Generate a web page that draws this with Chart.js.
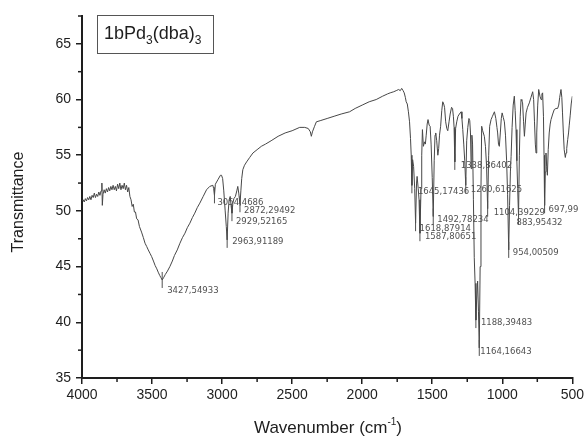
<!DOCTYPE html>
<html>
<head>
<meta charset="utf-8">
<title>1bPd3(dba)3 IR spectrum</title>
<script src="https://cdn.jsdelivr.net/npm/chart.js@4.4.1/dist/chart.umd.min.js"></script>
<style>
  html, body { margin: 0; padding: 0; background: #ffffff; }
  canvas { display: block; }
</style>
</head>
<body>
<canvas id="spectrum" width="587" height="439" style="width:587px;height:439px"></canvas>
<script>
// IR spectrum of 1bPd3(dba)3: wavenumber (cm-1) and transmittance readings
const wavenumbers = [
  4000, 3992, 3984, 3976, 3968, 3960, 3952, 3944, 3936, 3928, 3920, 3912, 3904, 3896, 3888, 3880,
  3872, 3864, 3858, 3855, 3850, 3842, 3834, 3826, 3818, 3810, 3802, 3794, 3786, 3778, 3770, 3762,
  3754, 3746, 3738, 3730, 3722, 3714, 3706, 3698, 3690, 3682, 3674, 3666, 3658, 3650, 3642, 3634,
  3626, 3618, 3610, 3600, 3590, 3575, 3562, 3550, 3538, 3527, 3515, 3503, 3490, 3478, 3466, 3456,
  3445, 3436, 3427.54933, 3418, 3405, 3390, 3373, 3355, 3340, 3320, 3301, 3283, 3265, 3248, 3230,
  3212, 3195, 3177, 3159, 3135, 3111, 3088, 3066, 3060, 3054.4686, 3048, 3030, 3012, 3004, 2996,
  2988, 2978, 2970, 2963.91189, 2957, 2950, 2942, 2936, 2929.52165, 2923, 2916, 2905, 2895, 2888,
  2881, 2872.29492, 2866, 2860, 2852, 2840, 2825, 2803, 2780, 2750, 2720, 2690, 2650, 2600, 2550,
  2500, 2446, 2410, 2385, 2370, 2363, 2355, 2340, 2327, 2300, 2250, 2200, 2150, 2090, 2050, 2000,
  1950, 1900, 1854, 1820, 1800, 1775, 1757, 1740, 1728, 1718, 1708, 1700, 1692, 1686, 1678, 1670,
  1662, 1655, 1650, 1645.17436, 1640, 1633, 1625, 1618.87914, 1612, 1608, 1600, 1594, 1587.80651,
  1580, 1575, 1570, 1563, 1555, 1549, 1543, 1536, 1530, 1522, 1515, 1508, 1500, 1492.78234, 1486,
  1480, 1475, 1468, 1460, 1454, 1448, 1440, 1432, 1425, 1418, 1412, 1404, 1396, 1389, 1380, 1372,
  1362, 1355, 1349, 1344, 1338.86402, 1333, 1325, 1316, 1306, 1294, 1288, 1282, 1275, 1268,
  1260.61625, 1254, 1246, 1238, 1232, 1227, 1222, 1217, 1212, 1206, 1200, 1194, 1188.39483, 1183,
  1176, 1170, 1164.16643, 1158, 1152, 1147, 1140, 1128, 1120, 1112, 1104.39229, 1097, 1090, 1080,
  1070, 1056, 1046, 1038, 1033, 1027, 1021, 1014, 1007, 1001, 993, 985, 977, 969, 962, 954.00509,
  948, 942, 937, 930, 922, 914, 908, 902, 896, 890, 883.95432, 878, 872, 866, 860, 855, 848, 842,
  836, 830, 820, 807, 795, 783, 776, 770, 764, 759, 754, 747, 740, 731, 723, 717, 712, 706, 702,
  697.99, 693, 688, 683, 678, 672, 665, 658, 652, 640, 629, 617, 605, 597, 590, 581, 575, 570, 564,
  558, 550, 545, 540, 533, 527, 522, 515, 508, 500
];
const transmittance = [
  50.9, 51.0, 50.8, 51.1, 50.9, 51.2, 51.0, 51.3, 51.0, 51.4, 51.2, 51.6, 51.2, 51.5, 51.3, 51.7,
  51.4, 51.8, 52.5, 50.5, 51.5, 51.9, 51.6, 52.0, 51.7, 52.1, 51.8, 52.2, 51.9, 52.3, 51.9, 52.2,
  51.8, 52.4, 52.0, 52.5, 51.9, 52.3, 52.0, 52.5, 51.9, 52.3, 51.7, 52.1, 51.3, 51.0, 50.4, 50.6,
  49.9, 49.9, 49.3, 49.2, 48.6, 48.1, 47.6, 47.1, 46.8, 46.5, 46.2, 45.9, 45.5, 45.1, 44.8, 44.5,
  44.2, 44.0, 43.8, 44.0, 44.3, 44.6, 45.0, 45.5, 46.0, 46.5, 47.1, 47.6, 48.0, 48.5, 48.9,
  49.4, 49.8, 50.3, 50.7, 51.3, 51.9, 52.2, 52.3, 52.0, 51.4, 52.4, 52.8, 53.2, 53.2, 52.9,
  51.8, 50.0, 48.6, 47.4, 49.8, 51.0, 51.3, 50.5, 49.8, 50.7, 51.1, 51.3, 51.8, 52.2,
  51.6, 50.6, 51.8, 52.9, 53.7, 54.1, 54.4, 54.8, 55.2, 55.5, 55.8, 56.0, 56.3, 56.7, 57.0,
  57.2, 57.5, 57.5, 57.4, 57.1, 56.7, 57.1, 57.6, 58.0, 58.1, 58.3, 58.5, 58.7, 58.9, 59.2, 59.5,
  59.8, 60.0, 60.3, 60.5, 60.6, 60.7, 60.8, 60.9, 60.8, 61.0, 60.8, 60.6, 60.2, 59.8, 59.6, 58.9,
  58.0, 56.5, 55.0, 52.3, 54.6, 54.0, 52.0, 48.9, 52.5, 53.1, 52.0, 51.0, 48.0,
  52.0, 55.0, 57.3, 55.8, 56.2, 56.0, 56.8, 57.8, 58.2, 57.7, 57.6, 56.0, 53.0, 49.5, 54.5,
  56.8, 57.0, 56.3, 55.0, 55.6, 56.8, 57.6, 59.0, 59.8, 59.6, 59.3, 58.0, 57.4, 57.2, 58.0, 58.7,
  59.3, 59.2, 58.5, 57.5, 54.4, 57.4, 58.0, 58.5, 58.7, 58.9, 58.3, 57.3, 56.0, 54.5,
  52.3, 56.3, 57.5, 58.3, 58.1, 57.0, 53.8, 56.8, 56.0, 51.0, 45.8, 43.5, 40.2, 42.0,
  43.7, 41.0, 37.7, 45.0, 52.0, 57.6, 57.2, 56.7, 55.8, 54.0, 50.2, 55.0, 57.6, 58.2,
  58.5, 58.9, 58.3, 57.5, 57.0, 56.0, 55.8, 57.0, 58.3, 58.8, 58.4, 58.0, 56.8, 54.5, 51.5, 46.5,
  50.5, 53.5, 54.9, 57.5, 59.5, 60.3, 59.0, 57.3, 54.5, 52.0, 49.5, 55.0, 58.5, 60.0, 59.9, 59.7, 58.0, 56.7,
  57.8, 58.8, 59.3, 59.7, 60.2, 60.7, 60.0, 58.0, 56.0, 55.2, 57.0, 59.5, 60.9, 60.3, 60.0, 60.5, 60.6, 58.5, 55.0,
  50.5, 53.5, 55.2, 54.0, 53.2, 55.5, 57.0, 57.8, 58.2, 58.7, 59.1, 59.2, 59.2, 59.5, 60.2, 60.9, 60.2, 58.8, 57.0,
  55.5, 54.8, 55.2, 55.6, 56.4, 57.0, 57.7, 58.6, 59.6, 60.3
];

// Picked peaks, labelled with comma decimals
const peakWavenumbers = [
  3427.54933, 3054.4686, 2963.91189, 2929.52165, 2872.29492, 1645.17436, 1618.87914, 1587.80651,
  1492.78234, 1338.86402, 1260.61625, 1188.39483, 1164.16643, 1104.39229, 954.00509, 883.95432, 697.99
];
const peakLabels = [
  '3427,54933', '3054,4686', '2963,91189', '2929,52165', '2872,29492', '1645,17436', '1618,87914',
  '1587,80651', '1492,78234', '1338,86402', '1260,61625', '1188,39483', '1164,16643', '1104,39229',
  '954,00509', '883,95432', '697,99'
];

const xTicks = [4000, 3500, 3000, 2500, 2000, 1500, 1000, 500];
const xMinorTicks = [3750, 3250, 2750, 2250, 1750, 1250, 750];
const yTicks = [35, 40, 45, 50, 55, 60, 65];
const yMinorTicks = [37.5, 42.5, 47.5, 52.5, 57.5, 62.5, 67.5];

const sampleName = { base: '1bPd', sub1: '3', mid: '(dba)', sub2: '3' };
const xTitle = { text: 'Wavenumber (cm', sup: '-1', close: ')' };
const yTitle = 'Transmittance';

const FONT = '"Liberation Sans", Arial, Helvetica, sans-serif';
const AXIS_COLOR = '#1e1e1e';

// label placement relative to each peak point: [dx, dy] in pixels
const labelOffsets = [
  [5, 11], [3, 7], [5, 2], [4, 9], [4, 7], [6, 6], [4, 6], [5, 4],
  [4, 3], [6, 4], [5, 4], [5, 3], [1, 4], [6, 4], [4, 3], [-2, 6], [4, 4]
];

const points = wavenumbers.map((w, i) => ({ x: w, y: transmittance[i] }));

function valueAt(w) {
  const i = wavenumbers.indexOf(w);
  return transmittance[i];
}

const decorations = {
  id: 'decorations',
  afterDatasetsDraw(chart) {
    const { ctx, chartArea, scales } = chart;
    const x = scales.x, y = scales.y;
    ctx.save();

    // minor ticks
    ctx.strokeStyle = AXIS_COLOR;
    ctx.lineWidth = 1.5;
    xMinorTicks.forEach(v => {
      const px = x.getPixelForValue(v);
      ctx.beginPath();
      ctx.moveTo(px, chartArea.bottom);
      ctx.lineTo(px, chartArea.bottom + 4);
      ctx.stroke();
    });
    yMinorTicks.forEach(v => {
      const py = y.getPixelForValue(v);
      ctx.beginPath();
      ctx.moveTo(chartArea.left, py);
      ctx.lineTo(chartArea.left - 4, py);
      ctx.stroke();
    });

    // peak markers and labels
    ctx.font = '8.5px "DejaVu Sans", sans-serif';
    ctx.fillStyle = '#505050';
    ctx.textAlign = 'left';
    ctx.textBaseline = 'middle';
    ctx.strokeStyle = '#505050';
    ctx.lineWidth = 1;
    peakWavenumbers.forEach((w, i) => {
      const px = x.getPixelForValue(w);
      const py = y.getPixelForValue(valueAt(w));
      ctx.beginPath();
      ctx.moveTo(px, py - 8);
      ctx.lineTo(px, py + 8);
      ctx.stroke();
      const [dx, dy] = labelOffsets[i];
      ctx.fillText(peakLabels[i], px + dx, py + dy);
    });

    // sample name box
    ctx.strokeStyle = '#555555';
    ctx.lineWidth = 1;
    ctx.strokeRect(97.5, 15.5, 116, 38);
    ctx.fillStyle = '#1e1e1e';
    ctx.textBaseline = 'alphabetic';
    let tx = 104;
    const base = 39;
    ctx.font = '18px ' + FONT;
    ctx.fillText(sampleName.base, tx, base);
    tx += ctx.measureText(sampleName.base).width;
    ctx.font = '12px ' + FONT;
    ctx.fillText(sampleName.sub1, tx, base + 5);
    tx += ctx.measureText(sampleName.sub1).width;
    ctx.font = '18px ' + FONT;
    ctx.fillText(sampleName.mid, tx, base);
    tx += ctx.measureText(sampleName.mid).width;
    ctx.font = '12px ' + FONT;
    ctx.fillText(sampleName.sub2, tx, base + 5);

    // x axis title with superscript
    ctx.font = '17px ' + FONT;
    const w1 = ctx.measureText(xTitle.text).width;
    ctx.font = '10px ' + FONT;
    const w2 = ctx.measureText(xTitle.sup).width;
    ctx.font = '17px ' + FONT;
    const w3 = ctx.measureText(xTitle.close).width;
    let sx = 328 - (w1 + w2 + w3) / 2;
    const xb = 433;
    ctx.fillText(xTitle.text, sx, xb);
    sx += w1;
    ctx.font = '10px ' + FONT;
    ctx.fillText(xTitle.sup, sx, xb - 8);
    sx += w2;
    ctx.font = '17px ' + FONT;
    ctx.fillText(xTitle.close, sx, xb);

    // y axis title
    ctx.translate(19, 202);
    ctx.rotate(-Math.PI / 2);
    ctx.font = '16px ' + FONT;
    ctx.textAlign = 'center';
    ctx.textBaseline = 'middle';
    ctx.fillText(yTitle, 0, 0);

    ctx.restore();
  }
};

new Chart(document.getElementById('spectrum'), {
  type: 'line',
  data: {
    datasets: [{
      data: points,
      borderColor: '#474747',
      borderWidth: 1,
      pointRadius: 0,
      tension: 0,
      fill: false
    }]
  },
  options: {
    responsive: false,
    animation: false,
    devicePixelRatio: 1,
    layout: { padding: { top: 16, right: 14, left: 0, bottom: 0 } },
    plugins: { legend: { display: false }, tooltip: { enabled: false } },
    scales: {
      x: {
        type: 'linear',
        reverse: true,
        min: 500,
        max: 4000,
        afterBuildTicks: s => { s.ticks = xTicks.map(v => ({ value: v })); },
        afterFit: s => { s.height = 61; },
        ticks: {
          font: { family: FONT, size: 14 }, color: AXIS_COLOR, padding: 3,
          maxRotation: 0, autoSkip: false, callback: v => String(v)
        },
        grid: { drawOnChartArea: false, drawTicks: true, tickLength: 6, color: AXIS_COLOR, lineWidth: 1.5 },
        border: { display: true, color: AXIS_COLOR, width: 2 }
      },
      y: {
        type: 'linear',
        min: 35,
        max: 67.5,
        afterBuildTicks: s => { s.ticks = yTicks.map(v => ({ value: v })); },
        afterFit: s => { s.width = 82; },
        ticks: { font: { family: FONT, size: 14 }, color: AXIS_COLOR, padding: 5, callback: v => String(v) },
        grid: { drawOnChartArea: false, drawTicks: true, tickLength: 6, color: AXIS_COLOR, lineWidth: 1.5 },
        border: { display: true, color: AXIS_COLOR, width: 2 }
      }
    }
  },
  plugins: [decorations]
});
</script>
</body>
</html>
